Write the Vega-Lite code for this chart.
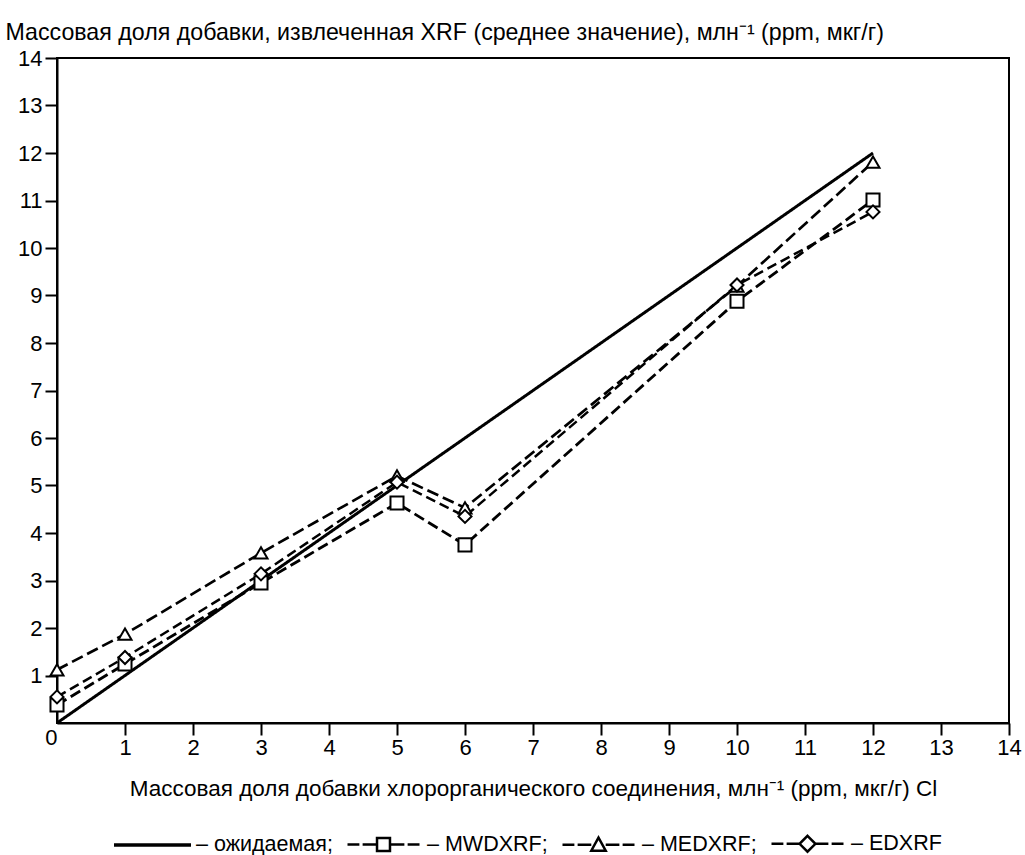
{
  "$schema": "https://vega.github.io/schema/vega-lite/v6.json",
  "width": 952,
  "height": 665,
  "autosize": {"type": "none"},
  "padding": {"left": 57, "top": 58, "right": 16, "bottom": 132},
  "background": "white",
  "config": {
    "view": {"stroke": "black", "strokeWidth": 2},
    "font": "Liberation Sans",
    "axis": {
      "domainColor": "black", "domainWidth": 2, "tickColor": "black", "tickWidth": 2,
      "tickSize": 12, "labelColor": "black", "labelFontSize": 22, "labelFont": "Liberation Sans",
      "titleColor": "black", "titleFontSize": 22.5, "titleFont": "Liberation Sans", "titleFontWeight": "normal", "grid": false
    }
  },
  "data": {
    "values": [
      {"x": 0, "y": 0, "series": "ожидаемая"},
      {"x": 12, "y": 12, "series": "ожидаемая"},
      {"x": 0, "y": 0.38, "series": "MWDXRF"},
      {"x": 1, "y": 1.24, "series": "MWDXRF"},
      {"x": 3, "y": 2.95, "series": "MWDXRF"},
      {"x": 5, "y": 4.63, "series": "MWDXRF"},
      {"x": 6, "y": 3.75, "series": "MWDXRF"},
      {"x": 10, "y": 8.88, "series": "MWDXRF"},
      {"x": 12, "y": 11.01, "series": "MWDXRF"},
      {"x": 0, "y": 1.12, "series": "MEDXRF"},
      {"x": 1, "y": 1.87, "series": "MEDXRF"},
      {"x": 3, "y": 3.58, "series": "MEDXRF"},
      {"x": 5, "y": 5.2, "series": "MEDXRF"},
      {"x": 6, "y": 4.53, "series": "MEDXRF"},
      {"x": 10, "y": 9.2, "series": "MEDXRF"},
      {"x": 12, "y": 11.81, "series": "MEDXRF"},
      {"x": 0, "y": 0.55, "series": "EDXRF"},
      {"x": 1, "y": 1.38, "series": "EDXRF"},
      {"x": 3, "y": 3.14, "series": "EDXRF"},
      {"x": 5, "y": 5.07, "series": "EDXRF"},
      {"x": 6, "y": 4.35, "series": "EDXRF"},
      {"x": 10, "y": 9.22, "series": "EDXRF"},
      {"x": 12, "y": 10.76, "series": "EDXRF"}
    ]
  },
  "encoding": {
    "x": {
      "field": "x", "type": "quantitative",
      "scale": {"domain": [0, 14], "nice": false, "zero": false},
      "axis": {
        "values": [0, 1, 2, 3, 4, 5, 6, 7, 8, 9, 10, 11, 12, 13, 14],
        "labelAlign": {"expr": "datum.value == 0 ? 'right' : 'center'"},
        "labelBaseline": {"expr": "datum.value == 0 ? 'middle' : 'top'"},
        "tickOpacity": {"expr": "datum.value == 0 ? 0 : 1"},
        "labelPadding": 2,
        "title": "Массовая доля добавки хлорорганического соединения, млн⁻¹ (ppm, мкг/г) Cl",
        "titlePadding": 19
      }
    },
    "y": {
      "field": "y", "type": "quantitative",
      "scale": {"domain": [0, 14], "nice": false, "zero": false},
      "axis": {
        "values": [1, 2, 3, 4, 5, 6, 7, 8, 9, 10, 11, 12, 13, 14],
        "labelPadding": 3,
        "title": "Массовая доля добавки, извлеченная XRF (среднее значение), млн⁻¹ (ppm, мкг/г)",
        "titleFontSize": 23.2,
        "titleAngle": 0, "titleAlign": "left", "titleBaseline": "alphabetic",
        "titleX": -52, "titleY": -19
      }
    }
  },
  "layer": [
    {
      "mark": {"type": "line", "color": "black"},
      "encoding": {
        "detail": {"field": "series"},
        "strokeDash": {
          "field": "series", "type": "nominal",
          "scale": {"domain": ["ожидаемая", "MWDXRF", "MEDXRF", "EDXRF"], "range": [[1, 0], [11, 5], [12, 5], [10, 5]]},
          "legend": null
        },
        "strokeWidth": {
          "field": "series", "type": "nominal",
          "scale": {"domain": ["ожидаемая", "MWDXRF", "MEDXRF", "EDXRF"], "range": [3, 2.5, 2.5, 2.5]},
          "legend": null
        }
      }
    },
    {
      "transform": [{"filter": "datum.series != 'ожидаемая'"}],
      "mark": {"type": "point", "filled": true, "fill": "white", "stroke": "black", "strokeWidth": 2, "size": 170, "opacity": 1},
      "encoding": {
        "shape": {
          "field": "series", "type": "nominal",
          "scale": {"domain": ["MWDXRF", "MEDXRF", "EDXRF"], "range": ["square", "triangle-up", "diamond"]},
          "legend": null
        }
      }
    },
    {
      "transform": [{"filter": "datum.x < -100"}],
      "mark": {"type": "point", "filled": false, "stroke": "black", "strokeWidth": 2.5, "opacity": 1},
      "encoding": {
        "shape": {
          "field": "series", "type": "nominal",
          "scale": {
            "domain": ["ожидаемая", "MWDXRF", "MEDXRF", "EDXRF"],
            "range": [
              "M-1.07,-0.015H1.07M-1.07,0.015H1.07",
              "M-1,0H-0.67M-0.58,0H-0.18M-0.18,-0.18H0.18V0.18H-0.18ZM0.18,0H0.58M0.67,0H1",
              "M-1,0H-0.67M-0.58,0H-0.2M0,-0.2L0.2,0.16H-0.2ZM0.2,0H0.58M0.67,0H1",
              "M-1,0H-0.67M-0.58,0H-0.22M0,-0.22L0.22,0L0,0.22L-0.22,0ZM0.22,0H0.58M0.67,0H1"
            ]
          },
          "legend": {
            "orient": "none", "legendX": 58, "legendY": 748,
            "direction": "horizontal", "columns": 4, "title": null,
            "symbolSize": 5184, "symbolStrokeWidth": 2.5, "symbolFillColor": "white", "symbolStrokeColor": "black",
            "labelFont": "Liberation Sans", "labelFontSize": 21.5, "labelColor": "black",
            "labelOffset": 6, "columnPadding": 9, "labelLimit": 400,
            "labelExpr": "datum.label == 'EDXRF' ? '– EDXRF' : '– ' + datum.label + ';'",
            "encode": {"symbols": {"update": {"stroke": {"value": "black"}, "fill": {"value": "white"}, "strokeWidth": {"value": 2.5}, "opacity": {"value": 1}}}}
          }
        }
      }
    }
  ],
  "resolve": {"scale": {"shape": "independent", "strokeDash": "independent", "strokeWidth": "independent"}}
}
